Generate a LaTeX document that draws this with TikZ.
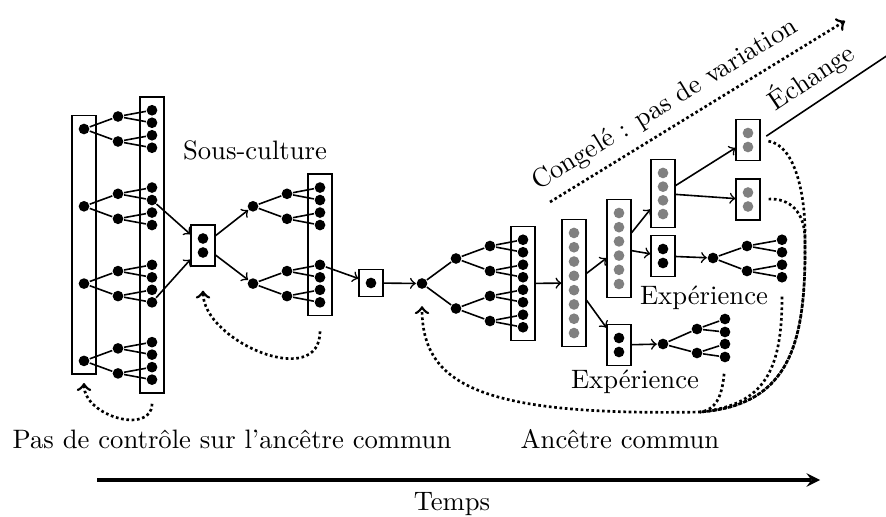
\documentclass[tikz,border=0pt]{standalone}
\usetikzlibrary{fit}
\tikzset{
  dot/.style={circle, fill=black, inner sep=0pt, minimum size=4pt},
  graydot/.style={dot, fill=gray},
  grp/.style={draw, inner xsep=2.1pt, inner ysep=2.7pt},
  lien/.style={line width=1pt, densely dotted},
  anc/.style={lien, ->},
}
\begin{document}
\begin{tikzpicture}[x=0.375pt, y=-0.375pt, semithick]
\useasboundingbox (0,0) rectangle (886,517);
\clip (0,0) rectangle (886,517);

% pas de controle
\foreach \ii in {1,...,4} {
  \pgfmathsetmacro\ya{129+77.3*(\ii-1)}
  \node[dot] (a\ii) at (84,\ya) {};
  \foreach \jj in {1,2} {
    \pgfmathtruncatemacro\kk{2*(\ii-1)+\jj}
    \pgfmathsetmacro\yb{\ya+25*(\jj-1.5)}
    \node[dot] (b\kk) at (118,\yb) {};
    \draw (a\ii) -- (b\kk);
    \foreach \nn in {1,2} {
      \pgfmathtruncatemacro\mm{2*(\kk-1)+\nn}
      \node[dot] (c\mm) at (152,{\yb+12.5*(\nn-1.5)}) {};
      \draw (b\kk) -- (c\mm);
    }
  }
}
\node[grp, fit=(a1)(a4)] (boxA) {};
\node[grp, fit=(c1)(c16)] (boxB) {};

% sous-culture
\node[dot] (s1) at (203,238.5) {};
\node[dot] (s2) at (203,252.5) {};
\node[grp, fit=(s1)(s2)] (boxC) {};
\draw[->] (c6) -- (boxC);
\draw[->] (c12) -- (boxC);
\foreach \ii/\ya in {1/206.3, 2/283.6} {
  \node[dot] (d\ii) at (253,\ya) {};
  \draw[->] (boxC) -- (d\ii);
  \foreach \jj in {1,2} {
    \pgfmathtruncatemacro\kk{2*(\ii-1)+\jj}
    \pgfmathsetmacro\yb{\ya+25*(\jj-1.5)}
    \node[dot] (e\kk) at (287,\yb) {};
    \draw (d\ii) -- (e\kk);
    \foreach \nn in {1,2} {
      \pgfmathtruncatemacro\mm{2*(\kk-1)+\nn}
      \node[dot] (f\mm) at (320,{\yb+12.5*(\nn-1.5)}) {};
      \draw (e\kk) -- (f\mm);
    }
  }
}
\node[grp, fit=(f1)(f8)] (boxE) {};
\node (souscult) at (255,150) {Sous-culture};

% ancetre commun
\node[dot] (r1) at (371,283) {};
\node[grp, fit=(r1)] (boxF) {};
\draw[->] (f5) -- (boxF);
\node[dot] (g0) at (422,283.5) {};
\draw[->] (boxF) -- (g0);
\foreach \ii in {1,2} {
  \pgfmathsetmacro\ya{283.5+50*(\ii-1.5)}
  \node[dot] (g\ii) at (456,\ya) {};
  \draw (g0) -- (g\ii);
  \foreach \jj in {1,2} {
    \pgfmathtruncatemacro\kk{2*(\ii-1)+\jj}
    \pgfmathsetmacro\yb{\ya+25*(\jj-1.5)}
    \node[dot] (h\kk) at (490,\yb) {};
    \draw (g\ii) -- (h\kk);
    \foreach \nn in {1,2} {
      \pgfmathtruncatemacro\mm{2*(\kk-1)+\nn}
      \node[dot] (k\mm) at (523,{\yb+12.5*(\nn-1.5)}) {};
      \draw (h\kk) -- (k\mm);
    }
  }
}
\node[grp, fit=(k1)(k8)] (boxH) {};

% congele
\foreach \nn in {1,...,8} \node[graydot] (i\nn) at (574,{283+14.3*(\nn-4.5)}) {};
\node[grp, fit=(i1)(i8)] (boxI) {};
\draw[->] (boxH) -- (boxI);
\foreach \nn in {1,...,6} \node[graydot] (j\nn) at (619,{248.5+14.2*(\nn-3.5)}) {};
\node[grp, fit=(j1)(j6)] (boxJ) {};
\draw[->] (boxI) -- (boxJ);
\foreach \nn in {1,...,4} \node[graydot] (m\nn) at (663,{193.5+13.7*(\nn-2.5)}) {};
\node[grp, fit=(m1)(m4)] (boxM) {};
\draw[->] (boxJ) -- (boxM);
\node[graydot] (p1) at (748,133) {};
\node[graydot] (p2) at (748,147) {};
\node[grp, fit=(p1)(p2)] (boxP) {};
\node[graydot] (q1) at (748,192.5) {};
\node[graydot] (q2) at (748,206.5) {};
\node[grp, fit=(q1)(q2)] (boxQ) {};
\draw[->] (boxM) -- (boxP);
\draw[->] (boxM) -- (boxQ);

% experiences
\node[dot] (n1) at (663,249) {};
\node[dot] (n2) at (663,263) {};
\node[grp, fit=(n1)(n2)] (boxN) {};
\draw[->] (boxJ) -- (boxN);
\node[dot] (v0) at (713,258) {};
\draw[->] (boxN) -- (v0);
\foreach \ii/\ya in {1/246, 2/271} {
  \node[dot] (v\ii) at (747,\ya) {};
  \draw (v0) -- (v\ii);
  \foreach \nn in {1,2} {
    \node[dot] (v\ii\nn) at (782,{\ya+12.5*(\nn-1.5)}) {};
    \draw (v\ii) -- (v\ii\nn);
  }
}
\node[dot] (x1) at (619,338) {};
\node[dot] (x2) at (619,352) {};
\node[grp, fit=(x1)(x2)] (boxK) {};
\draw[->] (boxI) -- (boxK);
\node[dot] (u0) at (663,344) {};
\draw[->] (boxK) -- (u0);
\foreach \ii/\ya/\yc/\yd in {1/329/319/332, 2/353/344/357} {
  \node[dot] (u\ii) at (697,\ya) {};
  \draw (u0) -- (u\ii);
  \node[dot] (u\ii1) at (725,\yc) {};
  \node[dot] (u\ii2) at (725,\yd) {};
  \draw (u\ii) -- (u\ii1);
  \draw (u\ii) -- (u\ii2);
}
\node (exp1) at (704,298) {Expérience};
\node (exp2) at (635,382) {Expérience};

% retours vers l'ancetre
\draw[anc, shorten <=3.75pt, shorten >=3pt] (boxB.south) to[out=-90, in=-90, looseness=1.5] (boxA.south);
\draw[anc, shorten <=5.6pt, shorten >=9pt] (boxE.south) to[out=-90, in=-90, looseness=1.5] (boxC.south);
\coordinate (mrg) at (700,412);
\draw[anc, shorten <=3pt, shorten >=6.2pt] (boxP.east) .. controls (795,145) and (806,195) .. (805,240)
  .. controls (806,340) and (792,405) .. (mrg) .. controls (480,416) and (422,385) .. (g0.south);
\draw[lien, shorten <=3pt] (boxQ.east) .. controls (790,198) and (805,212) .. (805,240)
  .. controls (806,340) and (792,405) .. (mrg);
\draw[lien, shorten <=5pt] (v22.south) .. controls (782,370) and (765,405) .. (mrg);
\draw[lien, shorten <=4pt] (u22.south) .. controls (722,398) and (715,410) .. (mrg);

% congele / echange
\coordinate (frz0) at (550,202);
\coordinate (frz1) at (845,21);
\draw[anc] (frz0) -- (frz1) node[pos=0.43, above, sloped] (congele) {Congelé : pas de variation};
\coordinate (ech1) at (900,47);
\draw[->, shorten <=2.6pt] (boxP.east) -- (ech1) node[pos=0.46, above, sloped] (echange) {Échange};

% temps
\node (noctrl) at (232,439) {Pas de contrôle sur l’ancêtre commun};
\node (ancetre) at (620,439) {Ancêtre commun};
\coordinate (t0) at (97,480);
\coordinate (t1) at (820,480);
\draw[very thick, -stealth] (t0) -- (t1);
\node (temps) at (452,504) {Temps};
\end{tikzpicture}
\end{document}
